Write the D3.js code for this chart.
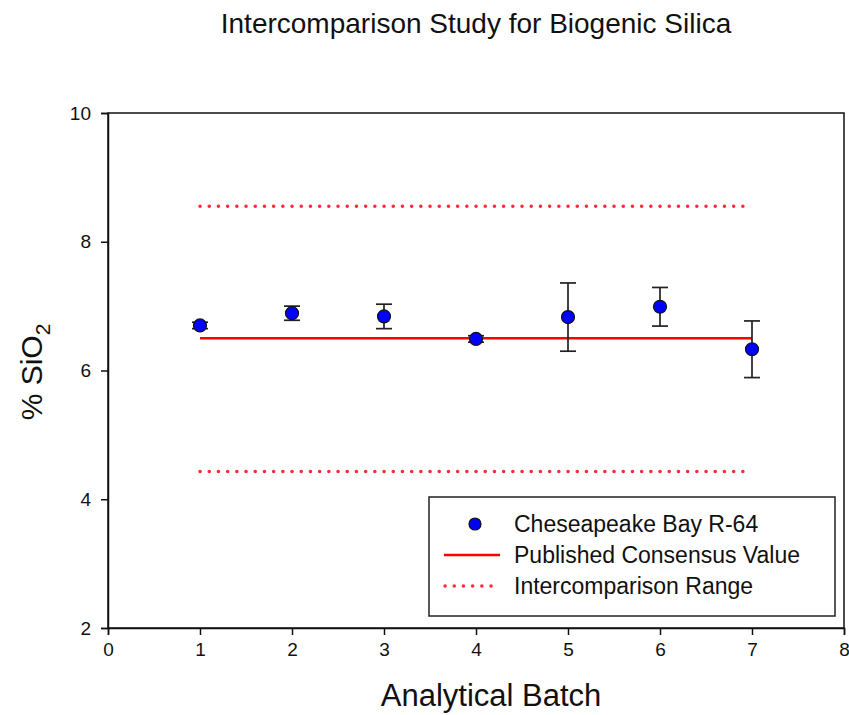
<!DOCTYPE html>
<html><head><meta charset="utf-8">
<script src="https://cdn.jsdelivr.net/npm/d3@7"></script>
<style>body{margin:0;background:#fff;} text{font-family:"Liberation Sans", Arial, sans-serif;fill:#111;}</style>
</head><body><svg id="c" width="849" height="715"></svg>
<script>
const batches = [1, 2, 3, 4, 5, 6, 7];
const silica = [6.70, 6.89, 6.84, 6.49, 6.83, 6.99, 6.33];
const errors = [0.05, 0.11, 0.19, 0.05, 0.53, 0.30, 0.44];
const consensus = 6.50;
const rangeLow = 4.43;
const rangeHigh = 8.55;
const xTicks = [0, 1, 2, 3, 4, 5, 6, 7, 8];
const yTicks = [2, 4, 6, 8, 10];
const legendLabels = ["Cheseapeake Bay R-64", "Published Consensus Value", "Intercomparison Range"];

const svg = d3.select("#c");
const L = 108, R = 844, T = 113, B = 628;
const x = d3.scaleLinear().domain([0, 8]).range([L, R]);
const y = d3.scaleLinear().domain([2, 10]).range([B, T]);

svg.append("text").attr("x", 476).attr("y", 33).attr("text-anchor", "middle")
  .style("font-size", "28px").text("Intercomparison Study for Biogenic Silica");

// frame
svg.append("rect").attr("x", L).attr("y", T).attr("width", R - L).attr("height", B - T)
  .attr("fill", "none").attr("stroke", "#111").attr("stroke-width", 1.5);

const xa = svg.append("g").attr("transform", `translate(0,${B})`)
  .call(d3.axisBottom(x).tickValues(xTicks).tickSize(7).tickPadding(8).tickFormat(d3.format("d")));
const ya = svg.append("g").attr("transform", `translate(${L},0)`)
  .call(d3.axisLeft(y).tickValues(yTicks).tickSize(7).tickPadding(10).tickFormat(d3.format("d")));
[xa, ya].forEach(a => {
  a.attr("font-size", null).attr("font-family", null);
  a.select(".domain").attr("stroke", "#111").attr("stroke-width", 1.5);
  a.selectAll(".tick line").attr("stroke", "#111").attr("stroke-width", 1.5);
  a.selectAll(".tick text").style("font-size", "19px").attr("fill", "#111");
});

svg.append("text").attr("x", 491).attr("y", 706).attr("text-anchor", "middle")
  .style("font-size", "31px").text("Analytical Batch");
const yl = svg.append("text").attr("transform", "translate(42,372) rotate(-90)")
  .attr("text-anchor", "middle").style("font-size", "30px");
yl.append("tspan").text("% SiO");
yl.append("tspan").style("font-size", "21px").attr("dy", 8).text("2");

// range lines
[rangeHigh, rangeLow].forEach(v => {
  svg.append("line").attr("x1", x(batches[0])).attr("x2", x(batches[batches.length - 1]))
    .attr("y1", y(v)).attr("y2", y(v)).attr("stroke", "#ff2a3a").attr("stroke-width", 3.5)
    .attr("stroke-dasharray", "0.1,9.1").attr("stroke-linecap", "round");
});
// consensus
svg.append("line").attr("x1", x(batches[0])).attr("x2", x(batches[batches.length - 1]))
  .attr("y1", y(consensus)).attr("y2", y(consensus)).attr("stroke", "#ff0000").attr("stroke-width", 2.5);

// error bars
const g = svg.append("g");
batches.forEach((b, i) => {
  const cx = x(b), y1 = y(silica[i] + errors[i]), y2 = y(silica[i] - errors[i]);
  g.append("line").attr("x1", cx).attr("x2", cx).attr("y1", y1).attr("y2", y2).attr("stroke", "#222").attr("stroke-width", 1.7);
  [y1, y2].forEach(yy => g.append("line").attr("x1", cx - 8).attr("x2", cx + 8).attr("y1", yy).attr("y2", yy).attr("stroke", "#222").attr("stroke-width", 1.7));
});
g.selectAll("circle").data(batches).join("circle")
  .attr("cx", d => x(d)).attr("cy", (d, i) => y(silica[i])).attr("r", 6.5)
  .attr("fill", "#0000ff").attr("stroke", "#111").attr("stroke-width", 1.2);

// legend
const lg = svg.append("g");
lg.append("rect").attr("x", 429).attr("y", 497).attr("width", 406).attr("height", 119)
  .attr("fill", "#fff").attr("stroke", "#222").attr("stroke-width", 1.5);
const rows = [524, 555, 586];
lg.append("circle").attr("cx", 475).attr("cy", rows[0]).attr("r", 6).attr("fill", "#0000ff").attr("stroke", "#111").attr("stroke-width", 1.2);
lg.append("line").attr("x1", 444).attr("x2", 500).attr("y1", rows[1]).attr("y2", rows[1]).attr("stroke", "#ff0000").attr("stroke-width", 2.5);
lg.append("line").attr("x1", 445).attr("x2", 500).attr("y1", rows[2]).attr("y2", rows[2]).attr("stroke", "#ff2a3a").attr("stroke-width", 3.5)
  .attr("stroke-dasharray", "0.1,9.1").attr("stroke-linecap", "round");
legendLabels.forEach((t, i) => {
  lg.append("text").attr("x", 514).attr("y", rows[i] + 8).style("font-size", "23px").text(t);
});
</script></body></html>
